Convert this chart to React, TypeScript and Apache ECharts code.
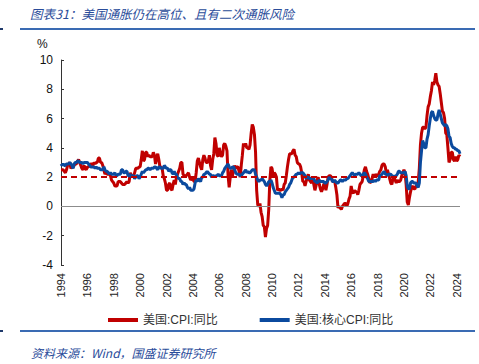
import React, { useEffect, useRef } from "react";
import * as echarts from "echarts";

const startYear = 1994;
const yearTicks = [1994, 1996, 1998, 2000, 2002, 2004, 2006, 2008, 2010, 2012, 2014, 2016, 2018, 2020, 2022, 2024];
const yTicks = [-4, -2, 0, 2, 4, 6, 8, 10];
const targetLevel = 2;
const seriesNames = ["美国:CPI:同比", "美国:核心CPI:同比"];

// monthly YoY, Jan 1994 onward
const cpiValues = [
  2.5, 2.5, 2.5, 2.4, 2.3, 2.5, 2.8, 2.9, 3.0, 2.6, 2.7, 2.7,
  2.8, 2.9, 2.9, 3.1, 3.2, 3.0, 2.8, 2.6, 2.5, 2.8, 2.6, 2.5,
  2.7, 2.7, 2.8, 2.9, 2.9, 2.8, 3.0, 2.9, 3.0, 3.0, 3.3, 3.3,
  3.0, 3.0, 2.8, 2.5, 2.2, 2.3, 2.2, 2.2, 2.2, 2.1, 1.8, 1.7,
  1.6, 1.4, 1.4, 1.4, 1.7, 1.7, 1.7, 1.6, 1.5, 1.5, 1.5, 1.6,
  1.7, 1.6, 1.7, 2.3, 2.1, 2.0, 2.1, 2.3, 2.6, 2.6, 2.6, 2.7,
  2.7, 3.2, 3.8, 3.1, 3.2, 3.7, 3.7, 3.4, 3.5, 3.4, 3.4, 3.4,
  3.7, 3.5, 2.9, 3.3, 3.6, 3.2, 2.7, 2.7, 2.6, 2.1, 1.9, 1.6,
  1.1, 1.1, 1.5, 1.6, 1.2, 1.1, 1.5, 1.8, 1.5, 2.0, 2.2, 2.4,
  2.6, 3.0, 3.0, 2.2, 2.1, 2.1, 2.1, 2.2, 2.3, 2.0, 1.8, 1.9,
  1.9, 1.7, 1.7, 2.3, 3.1, 3.3, 3.0, 2.7, 2.5, 3.2, 3.5, 3.3,
  3.0, 3.0, 3.1, 3.5, 2.8, 2.5, 3.2, 3.6, 4.7, 4.3, 3.5, 3.4,
  4.0, 3.6, 3.4, 3.5, 4.2, 4.3, 4.1, 3.8, 2.1, 1.3, 2.0, 2.5,
  2.1, 2.4, 2.8, 2.6, 2.7, 2.7, 2.4, 2.0, 2.8, 3.5, 4.3, 4.1,
  4.3, 4.0, 4.0, 3.9, 4.2, 5.0, 5.6, 5.4, 4.9, 3.7, 1.1, 0.1,
  0.0, 0.2, -0.4, -0.7, -1.3, -1.4, -2.1, -1.5, -1.3, -0.2, 1.8, 2.7,
  2.6, 2.1, 2.3, 2.2, 2.0, 1.1, 1.2, 1.1, 1.1, 1.2, 1.1, 1.5,
  1.6, 2.1, 2.7, 3.2, 3.6, 3.6, 3.6, 3.8, 3.9, 3.5, 3.4, 3.0,
  2.9, 2.9, 2.7, 2.3, 1.7, 1.7, 1.4, 1.7, 2.0, 2.2, 1.8, 1.7,
  1.6, 2.0, 1.5, 1.1, 1.4, 1.8, 2.0, 1.5, 1.2, 1.0, 1.2, 1.5,
  1.6, 1.1, 1.5, 2.0, 2.1, 2.1, 2.0, 1.7, 1.7, 1.7, 1.3, 0.8,
  -0.1, 0.0, -0.1, -0.2, 0.0, 0.1, 0.2, 0.2, 0.0, 0.2, 0.5, 0.7,
  1.4, 1.0, 0.9, 1.1, 1.0, 1.0, 0.8, 1.1, 1.5, 1.6, 1.7, 2.1,
  2.5, 2.7, 2.4, 2.2, 1.9, 1.6, 1.7, 1.9, 2.2, 2.0, 2.2, 2.1,
  2.1, 2.2, 2.4, 2.5, 2.8, 2.9, 2.9, 2.7, 2.3, 2.5, 2.2, 1.9,
  1.6, 1.5, 1.9, 2.0, 1.8, 1.6, 1.8, 1.7, 1.7, 1.8, 2.1, 2.3,
  2.5, 2.3, 1.5, 0.3, 0.1, 0.6, 1.0, 1.3, 1.4, 1.2, 1.2, 1.4,
  1.4, 1.7, 2.6, 4.2, 5.0, 5.4, 5.4, 5.3, 5.4, 6.2, 6.8, 7.0,
  7.5, 7.9, 8.5, 8.3, 8.6, 9.1, 8.5, 8.3, 8.2, 7.7, 7.1, 6.5,
  6.4, 6.0, 5.0, 4.9, 4.0, 3.0, 3.2, 3.7, 3.7, 3.2, 3.1, 3.4,
  3.1, 3.2, 3.5, 3.4,
];

const coreValues = [
  2.9, 2.8, 2.9, 2.8, 2.8, 2.9, 2.9, 2.9, 3.0, 2.9, 2.8, 2.6,
  2.9, 3.0, 3.0, 3.1, 3.1, 3.0, 3.0, 3.0, 2.9, 3.0, 3.0, 3.0,
  3.0, 2.9, 2.8, 2.7, 2.7, 2.7, 2.7, 2.6, 2.7, 2.6, 2.6, 2.6,
  2.5, 2.5, 2.5, 2.7, 2.5, 2.4, 2.4, 2.3, 2.2, 2.3, 2.2, 2.2,
  2.2, 2.3, 2.1, 2.1, 2.2, 2.2, 2.2, 2.5, 2.5, 2.3, 2.3, 2.4,
  2.4, 2.1, 2.1, 2.2, 2.0, 2.1, 2.1, 1.9, 2.0, 2.1, 2.1, 1.9,
  2.0, 2.2, 2.4, 2.3, 2.4, 2.5, 2.5, 2.6, 2.6, 2.5, 2.6, 2.6,
  2.6, 2.7, 2.7, 2.6, 2.5, 2.7, 2.7, 2.6, 2.6, 2.6, 2.8, 2.7,
  2.6, 2.6, 2.4, 2.5, 2.5, 2.3, 2.2, 2.4, 2.2, 2.2, 2.0, 1.9,
  1.9, 1.7, 1.7, 1.5, 1.6, 1.5, 1.5, 1.3, 1.2, 1.3, 1.1, 1.1,
  1.1, 1.2, 1.6, 1.8, 1.7, 1.9, 1.8, 1.7, 2.0, 2.0, 2.2, 2.2,
  2.3, 2.4, 2.3, 2.2, 2.2, 2.0, 2.1, 2.1, 2.0, 2.1, 2.1, 2.2,
  2.1, 2.1, 2.1, 2.3, 2.4, 2.6, 2.7, 2.8, 2.9, 2.7, 2.6, 2.6,
  2.7, 2.7, 2.5, 2.3, 2.2, 2.2, 2.2, 2.1, 2.1, 2.2, 2.3, 2.4,
  2.5, 2.3, 2.4, 2.3, 2.3, 2.4, 2.5, 2.5, 2.5, 2.2, 2.0, 1.8,
  1.7, 1.8, 1.8, 1.9, 1.8, 1.7, 1.5, 1.4, 1.5, 1.7, 1.7, 1.8,
  1.6, 1.3, 1.1, 0.9, 0.9, 0.9, 0.9, 0.9, 0.8, 0.6, 0.8, 0.8,
  1.0, 1.1, 1.2, 1.3, 1.5, 1.6, 1.8, 2.0, 2.0, 2.1, 2.2, 2.2,
  2.3, 2.2, 2.3, 2.3, 2.3, 2.2, 2.1, 1.9, 2.0, 2.0, 1.9, 1.9,
  1.9, 2.0, 1.9, 1.7, 1.7, 1.6, 1.7, 1.8, 1.7, 1.7, 1.7, 1.7,
  1.6, 1.6, 1.7, 1.8, 2.0, 1.9, 1.9, 1.7, 1.7, 1.8, 1.7, 1.6,
  1.6, 1.7, 1.8, 1.8, 1.7, 1.8, 1.8, 1.8, 1.9, 1.9, 2.0, 2.1,
  2.2, 2.3, 2.2, 2.1, 2.2, 2.2, 2.2, 2.3, 2.2, 2.1, 2.1, 2.2,
  2.3, 2.2, 2.0, 1.9, 1.7, 1.7, 1.7, 1.7, 1.7, 1.8, 1.7, 1.8,
  1.8, 1.8, 2.1, 2.1, 2.2, 2.3, 2.4, 2.2, 2.2, 2.1, 2.2, 2.2,
  2.2, 2.1, 2.0, 2.1, 2.0, 2.1, 2.2, 2.4, 2.4, 2.3, 2.3, 2.3,
  2.3, 2.4, 2.1, 1.4, 1.2, 1.2, 1.6, 1.7, 1.7, 1.6, 1.6, 1.6,
  1.4, 1.3, 1.6, 3.0, 3.8, 4.5, 4.3, 4.0, 4.0, 4.6, 4.9, 5.5,
  6.0, 6.4, 6.5, 6.2, 6.0, 5.9, 5.9, 6.3, 6.6, 6.3, 6.0, 5.7,
  5.6, 5.5, 5.6, 5.5, 5.3, 4.8, 4.7, 4.3, 4.1, 4.0, 4.0, 3.9,
  3.9, 3.8, 3.8, 3.6,
];

const toPairs = (vals: number[]) => vals.map((v, i) => [startYear + i / 12, v]);

export default function App() {
  const ref = useRef<HTMLDivElement>(null);
  useEffect(() => {
    if (!ref.current) return;
    const chart = echarts.init(ref.current, null, { renderer: "svg" });
    const red = "#C00000";
    const blue = "#0B4A9E";
    const titleBlue = "#2A4C9A";
    const ruleBlue = "#3A6BB3";
    const lastX = startYear + (cpiValues.length - 1) / 12;
    chart.setOption({
      animation: false,
      textStyle: { fontFamily: "Liberation Sans, Arial, sans-serif" },
      grid: { left: 61, right: 19, top: 60, bottom: 99, containLabel: false },
      legend: {
        left: 103,
        top: 309,
        itemWidth: 30,
        itemHeight: 4,
        itemGap: 42,
        icon: "rect",
        textStyle: { fontSize: 12, color: "#333", fontFamily: "Liberation Sans, Noto Sans CJK SC, sans-serif" },
        data: seriesNames,
      },
      xAxis: {
        type: "value",
        min: yearTicks[0],
        max: lastX,
        interval: 2,
        axisLine: { show: false, onZero: false },
        axisTick: { show: false },
        splitLine: { show: false },
        axisLabel: {
          rotate: 90,
          fontSize: 11,
          color: "#222",
          margin: 8,
          showMaxLabel: false,
          formatter: (v: number) => (yearTicks.includes(Math.round(v)) && Math.abs(v - Math.round(v)) < 1e-6 ? String(Math.round(v)) : ""),
        },
      },
      yAxis: {
        type: "value",
        min: yTicks[0],
        max: yTicks[yTicks.length - 1],
        interval: 2,
        axisLine: { show: true, lineStyle: { color: "#333", width: 1 } },
        axisTick: { show: true, inside: true, length: 3, lineStyle: { color: "#333" } },
        splitLine: { show: false },
        axisLabel: { fontSize: 12, color: "#111", margin: 8 },
      },
      graphic: [
        { type: "text", left: 37, top: 38, style: { text: "%", fontSize: 12, fill: "#111", fontFamily: "Liberation Sans, Arial, sans-serif" } },
        {
          type: "text",
          left: 30,
          top: 7,
          style: {
            text: "图表31：美国通胀仍在高位、且有二次通胀风险",
            fontSize: 12.5,
            fontStyle: "italic",
            fill: titleBlue,
            fontFamily: "Noto Sans CJK SC, sans-serif",
          },
        },
        { type: "line", shape: { x1: 20, y1: 29, x2: 475, y2: 29 }, style: { stroke: ruleBlue, lineWidth: 2 } },
        { type: "line", shape: { x1: 0, y1: 29, x2: 3, y2: 29 }, style: { stroke: "#1F3A6B", lineWidth: 2 } },
        { type: "line", shape: { x1: 20, y1: 331, x2: 475, y2: 331 }, style: { stroke: ruleBlue, lineWidth: 2 } },
        { type: "line", shape: { x1: 0, y1: 331, x2: 3, y2: 331 }, style: { stroke: "#1F3A6B", lineWidth: 2 } },
        {
          type: "text",
          left: 31,
          top: 346,
          style: {
            text: "资料来源：Wind，国盛证券研究所",
            fontSize: 12,
            fontStyle: "italic",
            fill: titleBlue,
            fontFamily: "Noto Sans CJK SC, sans-serif",
          },
        },
      ],
      series: [
        {
          name: seriesNames[0],
          type: "line",
          data: toPairs(cpiValues),
          symbol: "none",
          itemStyle: { color: red },
          lineStyle: { color: red, width: 3 },
          markLine: {
            silent: true,
            symbol: ["none", "none"],
            label: { show: false },
            data: [
              { yAxis: 0, lineStyle: { color: "#8c8c8c", type: "solid", width: 1.2 } },
              { yAxis: targetLevel, lineStyle: { color: red, type: [6, 4], width: 2 } },
            ],
          },
          z: 2,
        },
        {
          name: seriesNames[1],
          type: "line",
          data: toPairs(coreValues),
          symbol: "none",
          itemStyle: { color: blue },
          lineStyle: { color: blue, width: 3 },
          z: 3,
        },
      ],
    });
    return () => chart.dispose();
  }, []);
  return <div ref={ref} style={{ position: "absolute", left: 0, top: 0, width: 479, height: 364 }} />;
}
